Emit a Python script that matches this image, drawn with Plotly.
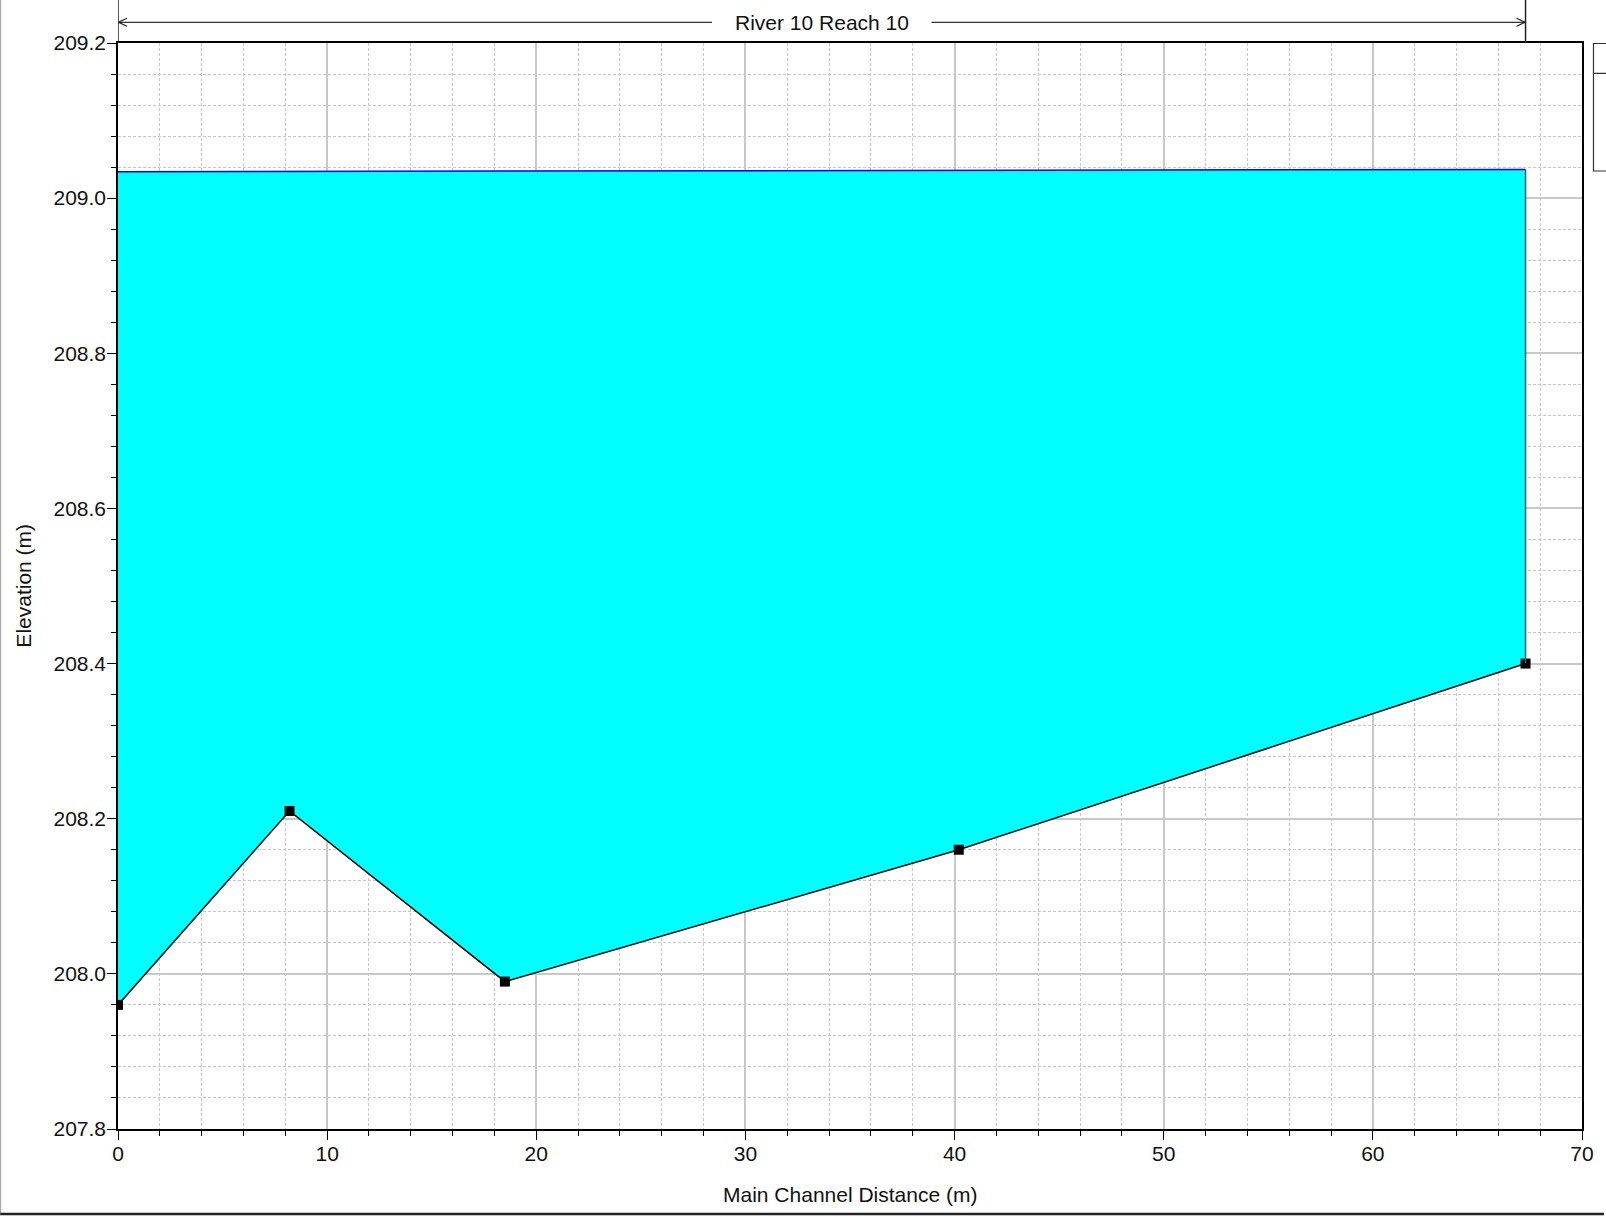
import plotly.graph_objects as go

# ---- data ----
station = [0.0, 8.2, 18.5, 40.2, 67.3]
ground_elev = [207.96, 208.21, 207.99, 208.16, 208.40]
ws_station = [0.0, 67.3]
ws_elev = [209.034, 209.037]
title_text = "River 10 Reach 10"
x_title = "Main Channel Distance (m)"
y_title = "Elevation (m)"

# ---- layout geometry (pixels) ----
W, H = 1606, 1217
ML, MR, MT, MB = 118, 22, 43, 88
PW, PH = W - ML - MR, H - MT - MB


def px_x(p):
    return (p - ML) / PW


def px_y(p):
    return (H - MB - p) / PH


FONT = "Liberation Sans, Arial, sans-serif"

fig = go.Figure()

# water surface line
fig.add_trace(go.Scatter(
    x=ws_station, y=ws_elev, mode="lines",
    line=dict(color="#0000ff", width=1.5), showlegend=False, hoverinfo="skip"))
# ground with fill up to water surface
fig.add_trace(go.Scatter(
    x=station, y=ground_elev, mode="lines+markers",
    line=dict(color="black", width=1.5),
    marker=dict(symbol="square", size=10, color="black"),
    fill="tonexty", fillcolor="#00ffff", showlegend=False))
# right edge of water
fig.add_trace(go.Scatter(
    x=[station[-1], station[-1]], y=[ground_elev[-1], ws_elev[-1]], mode="lines",
    line=dict(color="#555555", width=1.5), showlegend=False, hoverinfo="skip"))

shapes = []
# reach marker line above plot
y_line = px_y(22.3)
y_top = px_y(0)
x_mid = (station[0] + station[-1]) / 2
gap = 5.25
shapes.append(dict(type="line", xref="x", yref="paper", x0=station[0], x1=x_mid - gap,
                   y0=y_line, y1=y_line, line=dict(color="#333333", width=1.2)))
shapes.append(dict(type="line", xref="x", yref="paper", x0=x_mid + gap, x1=station[-1],
                   y0=y_line, y1=y_line, line=dict(color="#333333", width=1.2)))
for xa in (station[0], station[-1]):
    shapes.append(dict(type="line", xref="x", yref="paper", x0=xa, x1=xa,
                       y0=1, y1=y_top, line=dict(color="#222222", width=1.5)))
# arrowheads (open chevrons)
shapes.append(dict(type="path", xref="x", yref="paper", xsizemode="pixel", ysizemode="pixel",
                   xanchor=station[0], yanchor=y_line,
                   path="M 9,4 L 0.5,0 L 9,-4", line=dict(color="#222222", width=1.2)))
shapes.append(dict(type="path", xref="x", yref="paper", xsizemode="pixel", ysizemode="pixel",
                   xanchor=station[-1], yanchor=y_line,
                   path="M -9,4 L -0.5,0 L -9,-4", line=dict(color="#222222", width=1.2)))
# clipped legend box at right
shapes.append(dict(type="rect", xref="paper", yref="paper", x0=px_x(1595.5), x1=px_x(1640),
                   y0=px_y(171), y1=px_y(43.5), line=dict(color="#333333", width=1.2)))
shapes.append(dict(type="line", xref="paper", yref="paper", x0=px_x(1595.5), x1=px_x(1640),
                   y0=px_y(73.3), y1=px_y(73.3), line=dict(color="#333333", width=1.2)))
# window frame
shapes.append(dict(type="line", xref="paper", yref="paper", x0=px_x(0.5), x1=px_x(0.5),
                   y0=px_y(0), y1=px_y(1213), line=dict(color="#999999", width=1)))
shapes.append(dict(type="line", xref="paper", yref="paper", x0=px_x(0), x1=px_x(W),
                   y0=px_y(1214), y1=px_y(1214), line=dict(color="#222222", width=2.5)))

annotations = [
    dict(text=title_text, xref="x", yref="paper", x=x_mid, y=y_line, showarrow=False,
         xanchor="center", yanchor="middle", font=dict(size=21, color="#111111", family=FONT)),
    dict(text=y_title, xref="paper", yref="paper", x=px_x(22.5), y=0.5, textangle=-90,
         showarrow=False, xanchor="center", yanchor="middle",
         font=dict(size=21, color="#111111", family=FONT)),
    dict(text=x_title, xref="paper", yref="paper", x=0.5, y=px_y(1194), showarrow=False,
         xanchor="center", yanchor="middle", font=dict(size=21, color="#111111", family=FONT)),
]

fig.update_layout(
    width=W, height=H,
    margin=dict(l=ML, r=MR, t=MT, b=MB),
    paper_bgcolor="white", plot_bgcolor="white",
    font=dict(family=FONT, size=21, color="#111111"),
    shapes=shapes, annotations=annotations,
    showlegend=False,
)
fig.update_xaxes(
    range=[0, 70], dtick=10, tick0=0, showline=True, linecolor="black", linewidth=1.5,
    mirror=True, ticks="outside", ticklen=9, tickcolor="black", tickwidth=1.2,
    ticklabelstandoff=-4,
    showgrid=True, gridcolor="#c8c8c8", gridwidth=1.5, zeroline=False,
    minor=dict(dtick=2, ticks="outside", ticklen=5, tickcolor="black", showgrid=True,
               gridcolor="#c8c8c8", griddash="3px,2px", gridwidth=1),
)
fig.update_yaxes(
    range=[207.8, 209.2], dtick=0.2, tick0=207.8, tickformat=".1f", showline=True,
    linecolor="black", linewidth=1.5, mirror=True, ticks="outside", ticklen=9,
    tickcolor="black", tickwidth=1.2, ticklabelstandoff=-3,
    showgrid=True, gridcolor="#c8c8c8", gridwidth=1.5,
    zeroline=False,
    minor=dict(dtick=0.04, ticks="outside", ticklen=5, tickcolor="black", showgrid=True,
               gridcolor="#c8c8c8", griddash="3px,2px", gridwidth=1),
)

fig.write_html(
    "out.html",
    config={"displayModeBar": False},
    post_script="document.body.style.margin='0';document.body.style.overflow='hidden';",
)
